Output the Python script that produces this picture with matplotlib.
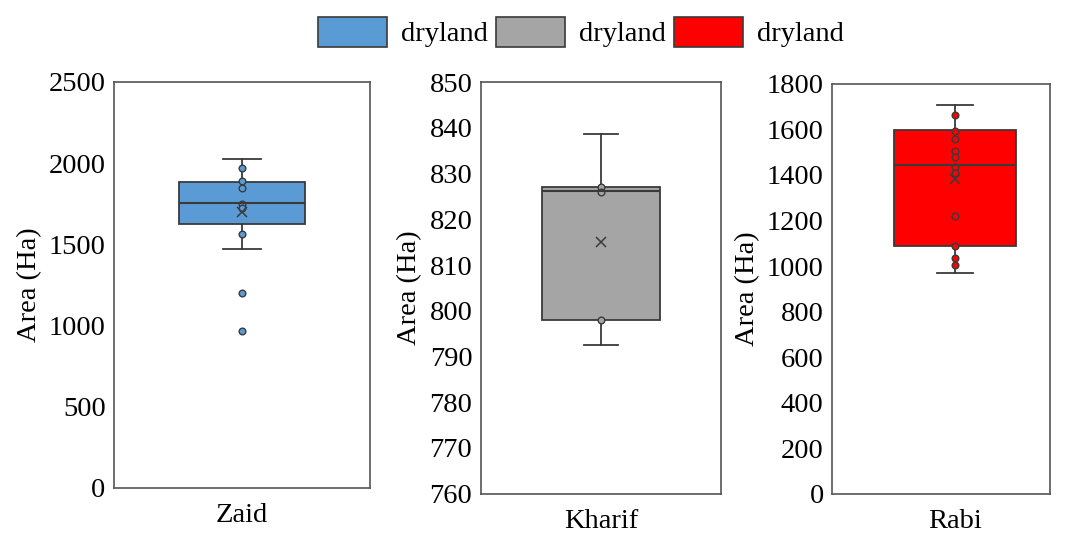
import matplotlib
matplotlib.use('Agg')
import matplotlib.pyplot as plt
from matplotlib.patches import Patch

plt.rcParams['font.family'] = ['Liberation Serif', 'DejaVu Serif']
plt.rcParams['font.size'] = 20.5

# season names and box statistics (Area, Ha)
seasons = ['Zaid', 'Kharif', 'Rabi']
box_colors = ['#5B9BD5', '#A5A5A5', '#FF0000']

zaid_stats = {'whislo': 1471, 'q1': 1625, 'med': 1755, 'q3': 1886, 'whishi': 2025, 'mean': 1699}
kharif_stats = {'whislo': 792.5, 'q1': 798.0, 'med': 826.2, 'q3': 827.2, 'whishi': 838.6, 'mean': 815.1}
rabi_stats = {'whislo': 970, 'q1': 1087, 'med': 1445, 'q3': 1597, 'whishi': 1706, 'mean': 1381}

zaid_points = [1970, 1890, 1847, 1748, 1724, 1562, 1200, 966]
kharif_points = [827.1, 826.0, 798.0]
rabi_points = [1663, 1591, 1556, 1506, 1480, 1433, 1410, 1221, 1087, 1034, 1005]

zaid_ticks = [0, 500, 1000, 1500, 2000, 2500]
kharif_ticks = [760, 770, 780, 790, 800, 810, 820, 830, 840, 850]
rabi_ticks = [0, 200, 400, 600, 800, 1000, 1200, 1400, 1600, 1800]

edge = '#3a3a3a'

fig = plt.figure(figsize=(10.66, 5.36), dpi=100)
ax1 = fig.add_axes([0.1069, 0.0901, 0.2402, 0.757])
ax2 = fig.add_axes([0.4509, 0.0789, 0.2254, 0.7676])
ax3 = fig.add_axes([0.7805, 0.0784, 0.2045, 0.7655])

panels = [
    (ax1, zaid_stats, zaid_points, zaid_ticks, (0.49, 1.51), 0.15),
    (ax2, kharif_stats, kharif_points, kharif_ticks, (0.49, 1.51), 0.145),
    (ax3, rabi_stats, rabi_points, rabi_ticks, (0.496, 1.389), 0.15),
]

for i, (ax, st, pts, ticks, xl, capw) in enumerate(panels):
    stats = dict(st)
    stats['fliers'] = []
    stats['label'] = seasons[i]
    ax.bxp([stats], positions=[1], widths=0.5, capwidths=capw,
           patch_artist=True, showmeans=True, showfliers=False,
           boxprops=dict(facecolor=box_colors[i], edgecolor=edge, linewidth=1.3),
           medianprops=dict(color=edge, linewidth=1.5),
           whiskerprops=dict(color=edge, linewidth=1.3),
           capprops=dict(color=edge, linewidth=1.3),
           meanprops=dict(marker='x', markeredgecolor=edge, markersize=7,
                          markeredgewidth=1.1))
    ax.plot([1] * len(pts), pts, 'o', markersize=4.8, markerfacecolor=box_colors[i],
            markeredgecolor=edge, markeredgewidth=1.0, linestyle='none')
    ax.set_ylim(ticks[0], ticks[-1])
    ax.set_yticks(ticks)
    ax.set_xlim(*xl)
    ax.set_xticks([1], [seasons[i]])
    ax.tick_params(axis='y', length=0, pad=6)
    ax.tick_params(axis='x', length=0, pad=11)
    ax.set_ylabel('Area (Ha)', labelpad=5)
    for s in ax.spines.values():
        s.set_color('#555555')
        s.set_linewidth(1.2)

handles = [Patch(facecolor=c, edgecolor=edge, linewidth=1.2) for c in box_colors]
fig.legend(handles, ['dryland'] * 3, loc='center', bbox_to_anchor=(0.545, 0.94),
           ncol=3, frameon=False, handlelength=2.4, handleheight=1.25,
           handletextpad=0.5, columnspacing=0.3)

fig.savefig('out.png', dpi=100)
